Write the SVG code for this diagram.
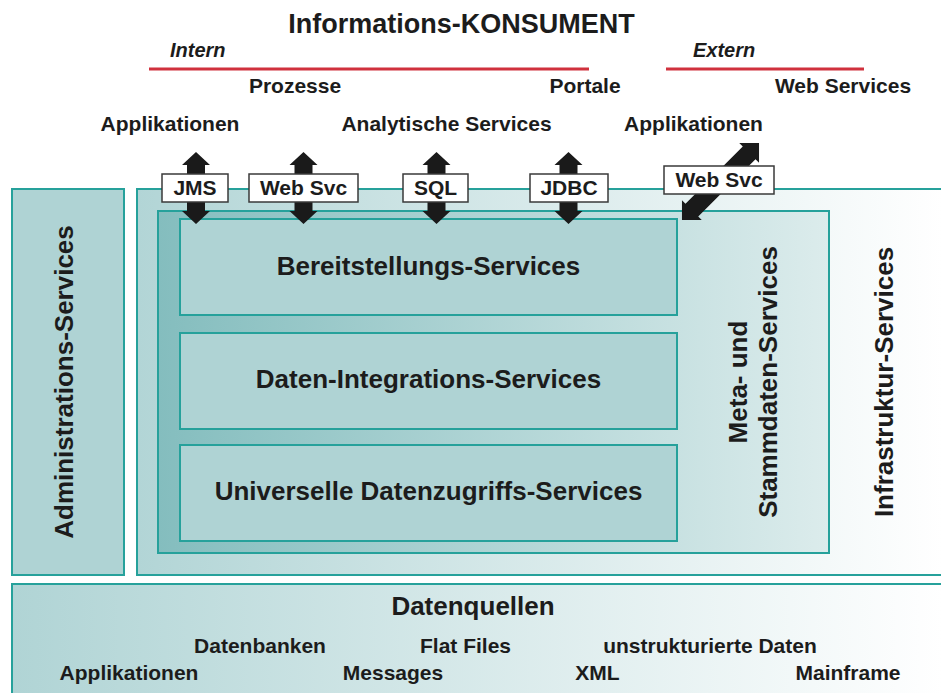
<svg xmlns="http://www.w3.org/2000/svg" width="941" height="693" viewBox="0 0 941 693">
  <defs>
    <linearGradient id="gInfra" x1="0" y1="0" x2="1" y2="0">
      <stop offset="0" stop-color="#b2d5d6"/>
      <stop offset="1" stop-color="#ffffff"/>
    </linearGradient>
    <linearGradient id="gMeta" x1="0" y1="0" x2="1" y2="0">
      <stop offset="0" stop-color="#84bdbe"/>
      <stop offset="1" stop-color="#dcecec"/>
    </linearGradient>
    <linearGradient id="gSrc" x1="0" y1="0" x2="1" y2="0">
      <stop offset="0" stop-color="#b0d4d5"/>
      <stop offset="1" stop-color="#ffffff"/>
    </linearGradient>
    <path id="vArrow" d="M0,-36 L14,-23 L9,-23 L9,23 L14,23 L0,36 L-14,23 L-9,23 L-9,-23 L-14,-23 Z"/>
  </defs>
  <style>
    text { font-family: "Liberation Sans", Arial, Helvetica, sans-serif; font-weight: bold; fill: #1c1c1c; }
    .title { font-size: 27px; }
    .side { font-size: 20px; font-style: italic; }
    .cons { font-size: 21px; }
    .lbl { font-size: 21px; text-anchor: middle; }
    .layer { font-size: 26px; text-anchor: middle; }
    .src { font-size: 21px; text-anchor: middle; }
    .box { stroke: #26a19b; stroke-width: 2; }
    .edge { fill: none; stroke: #26a19b; stroke-width: 2; }
    .tag { fill: #ffffff; stroke: #3a3a3a; stroke-width: 1.5; }
    .arrow { fill: #1a1a1a; }
    .red { stroke: #d0313d; stroke-width: 3; }
  </style>

  <!-- consumer header -->
  <g id="consumer">
    <text class="title" x="461.5" y="33" text-anchor="middle">Informations-KONSUMENT</text>
    <text class="side" x="170" y="57">Intern</text>
    <text class="side" x="693" y="57">Extern</text>
    <line class="red" x1="149" y1="69" x2="589" y2="69"/>
    <line class="red" x1="666" y1="69" x2="864" y2="69"/>
    <text class="cons" x="295" y="93" text-anchor="middle">Prozesse</text>
    <text class="cons" x="585" y="93" text-anchor="middle">Portale</text>
    <text class="cons" x="843" y="93" text-anchor="middle">Web Services</text>
    <text class="cons" x="170" y="131" text-anchor="middle">Applikationen</text>
    <text class="cons" x="446.5" y="131" text-anchor="middle">Analytische Services</text>
    <text class="cons" x="693.5" y="131" text-anchor="middle">Applikationen</text>
  </g>

  <!-- administration column -->
  <g id="admin">
    <rect class="box" x="12" y="189" width="112" height="386" fill="#afd3d4"/>
    <text class="layer" transform="translate(73,382) rotate(-90)">Administrations-Services</text>
  </g>

  <!-- infrastructure frame, open to the right -->
  <g id="infra">
    <rect x="137" y="189" width="806" height="386" fill="url(#gInfra)"/>
    <path class="edge" d="M943,189 L137,189 L137,575 L943,575"/>
    <text class="layer" transform="translate(893,382) rotate(-90)">Infrastruktur-Services</text>
  </g>

  <!-- meta and master data -->
  <g id="meta">
    <rect class="box" x="158" y="211" width="671" height="342" fill="url(#gMeta)"/>
    <text class="layer" transform="translate(747,382) rotate(-90)">Meta- und</text>
    <text class="layer" transform="translate(777,382) rotate(-90)">Stammdaten-Services</text>
  </g>

  <!-- service layers -->
  <g id="bereitstellung">
    <rect class="box" x="180" y="219" width="497" height="96" fill="#afd3d4"/>
    <text class="layer" x="428.5" y="275">Bereitstellungs-Services</text>
  </g>
  <g id="integration">
    <rect class="box" x="180" y="333" width="497" height="96" fill="#afd3d4"/>
    <text class="layer" x="428.5" y="388">Daten-Integrations-Services</text>
  </g>
  <g id="zugriff">
    <rect class="box" x="180" y="445" width="497" height="96" fill="#afd3d4"/>
    <text class="layer" x="428.5" y="500">Universelle Datenzugriffs-Services</text>
  </g>

  <!-- data sources, open to the right and bottom -->
  <g id="datenquellen">
    <rect x="12" y="584" width="931" height="111" fill="url(#gSrc)"/>
    <path class="edge" d="M943,584 L12,584 L12,695"/>
    <text class="layer" x="473" y="615">Datenquellen</text>
    <text class="src" x="260" y="653">Datenbanken</text>
    <text class="src" x="465.5" y="653">Flat Files</text>
    <text class="src" x="710" y="653">unstrukturierte Daten</text>
    <text class="src" x="129" y="680">Applikationen</text>
    <text class="src" x="393" y="680">Messages</text>
    <text class="src" x="597.5" y="680">XML</text>
    <text class="src" x="848" y="680">Mainframe</text>
  </g>

  <!-- interface connectors -->
  <g id="connectors">
    <use href="#vArrow" class="arrow" x="196" y="188"/>
    <use href="#vArrow" class="arrow" x="303.5" y="188"/>
    <use href="#vArrow" class="arrow" x="436.5" y="188"/>
    <use href="#vArrow" class="arrow" x="568.5" y="188"/>
    <path class="arrow" transform="translate(720.5,181.5) rotate(-45)" d="M54.5,0 L40.5,14 L40.5,9 L-40.5,9 L-40.5,14 L-54.5,0 L-40.5,-14 L-40.5,-9 L40.5,-9 L40.5,-14 Z"/>

    <rect class="tag" x="162" y="174" width="66" height="28"/>
    <text class="lbl" x="195" y="195">JMS</text>
    <rect class="tag" x="249" y="174" width="109" height="28"/>
    <text class="lbl" x="303.5" y="195">Web Svc</text>
    <rect class="tag" x="403" y="174" width="65" height="28"/>
    <text class="lbl" x="435.5" y="195">SQL</text>
    <rect class="tag" x="530" y="174" width="78" height="28"/>
    <text class="lbl" x="569" y="195">JDBC</text>
    <rect class="tag" x="664" y="166" width="110" height="28"/>
    <text class="lbl" x="719" y="187">Web Svc</text>
  </g>
</svg>
